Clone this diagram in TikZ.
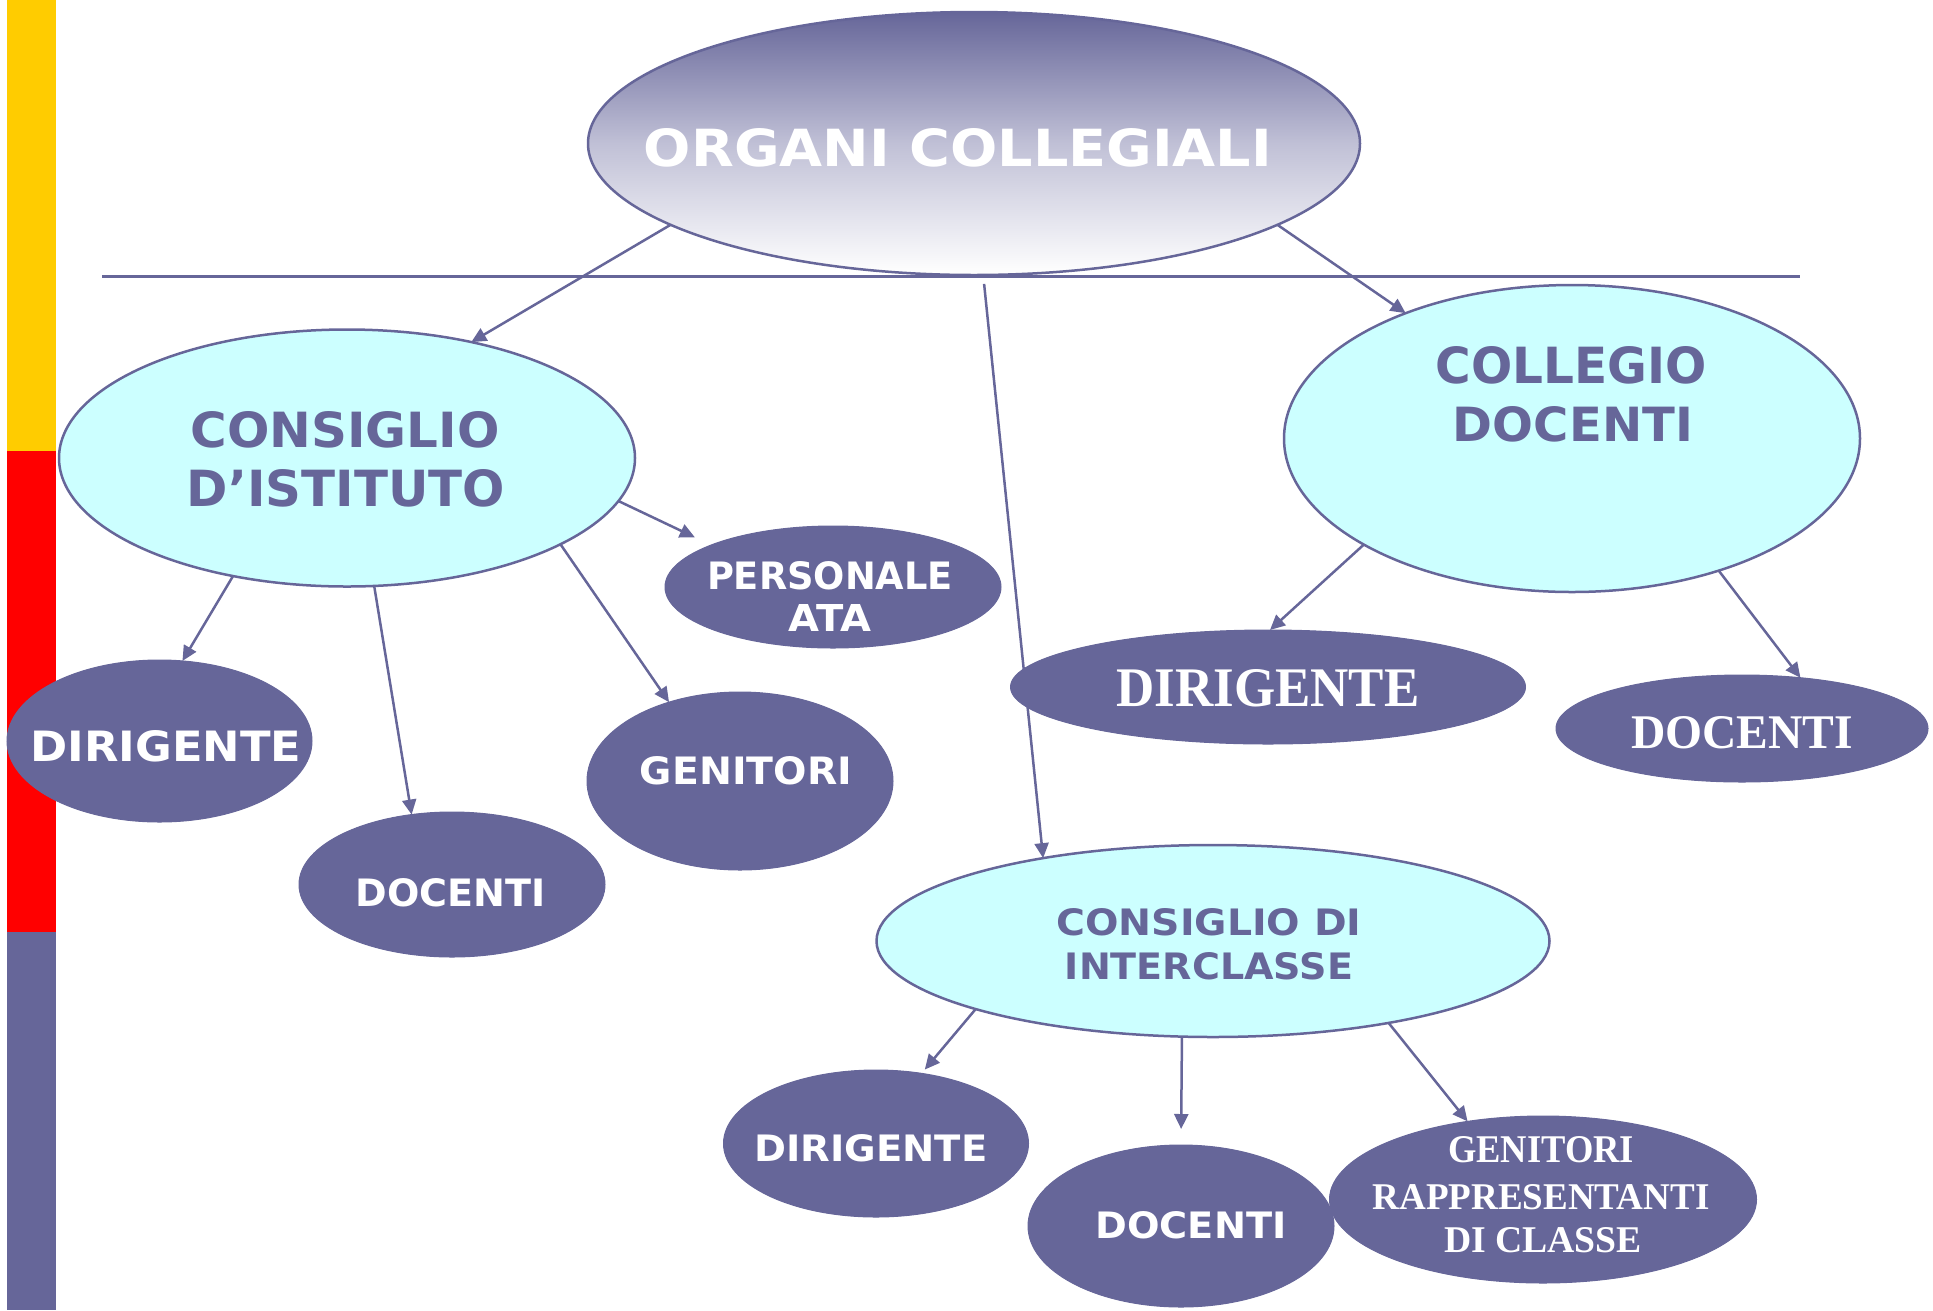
\documentclass[tikz,border=0pt]{standalone}
\usepackage{fontspec}
\setmainfont{DejaVu Sans}
\newfontfamily\tnr{Liberation Serif}
\usetikzlibrary{shapes.geometric,arrows.meta}
\definecolor{pur}{HTML}{666699}
\definecolor{lcyan}{HTML}{CCFFFF}
\definecolor{barY}{HTML}{FFCC00}
\definecolor{barR}{HTML}{FF0000}
\definecolor{midg}{RGB}{192,192,214}
\newcommand{\fitbox}[3]{\resizebox{#1pt}{#2pt}{#3}}
\tikzset{
 ell/.style={ellipse, inner sep=0pt, outer sep=0pt},
 darkell/.style={ell, fill=pur, draw=pur, line width=1pt},
 lightell/.style={ell, fill=lcyan, draw=pur, line width=2.5pt},
 wtxt/.style={inner sep=0pt, outer sep=0pt, text=white, font=\bfseries},
 ptxt/.style={inner sep=0pt, outer sep=0pt, text=pur, font=\bfseries},
 stxt/.style={inner sep=0pt, outer sep=0pt, text=white, font=\tnr\bfseries},
 conn/.style={draw=pur, line width=2.5pt, -{Triangle[length=15pt,width=14pt]}},
}
\begin{document}
\begin{tikzpicture}[x=1pt,y=-1pt]
\useasboundingbox (0,0) rectangle (1933,1310);
% left bar
\fill[barY] (7,0) rectangle (56,451);
\fill[barR] (7,451) rectangle (56,932);
\fill[pur] (7,932) rectangle (56,1310);
% horizontal rule
\coordinate (hl) at (102,276);
\coordinate (hr) at (1800,276);
\draw[pur, line width=3pt] (hl) -- (hr);
% ellipses
\node[ell, draw=pur, line width=2.5pt, top color=pur, bottom color=white, middle color=midg,
      minimum width=772pt, minimum height=263pt] (top) at (974,143.5) {};
\node[lightell, minimum width=576pt, minimum height=257pt] (cdi) at (347,458) {};
\node[lightell, minimum width=576pt, minimum height=307pt] (cd) at (1572,438.5) {};
\node[lightell, minimum width=673pt, minimum height=192pt] (ci) at (1213,941) {};
\node[darkell, minimum width=336pt, minimum height=122pt] (pa) at (833,587) {};
\node[darkell, minimum width=305pt, minimum height=162pt] (dl) at (159.5,741) {};
\node[darkell, minimum width=306pt, minimum height=145pt] (docl) at (452,884.5) {};
\node[darkell, minimum width=306pt, minimum height=178pt] (gen) at (740,781) {};
\node[darkell, minimum width=515pt, minimum height=114pt] (dr) at (1268,687) {};
\node[darkell, minimum width=372pt, minimum height=107pt] (docr) at (1742,728.5) {};
\node[darkell, minimum width=305pt, minimum height=147pt] (db) at (876,1143.5) {};
\node[darkell, minimum width=306pt, minimum height=162pt] (dob) at (1181,1226) {};
\node[darkell, minimum width=427pt, minimum height=167pt] (gr) at (1543,1199.5) {};
% texts
\node[wtxt] (t-top) at (958,147.5) {\fitbox{628}{38}{ORGANI COLLEGIALI}};
\node[ptxt] (t-cdi1) at (345,430) {\fitbox{309}{36}{CONSIGLIO}};
\node[ptxt] (t-cdi2) at (346,488.5) {\fitbox{318}{37}{D’ISTITUTO}};
\node[ptxt] (t-cd1) at (1571,365.5) {\fitbox{271}{37}{COLLEGIO}};
\node[ptxt] (t-cd2) at (1573,424) {\fitbox{240}{35}{DOCENTI}};
\node[ptxt] (t-ci1) at (1209,922) {\fitbox{305}{27}{CONSIGLIO DI}};
\node[ptxt] (t-ci2) at (1209,966) {\fitbox{288}{27}{INTERCLASSE}};
\node[wtxt] (t-pa1) at (830,576) {\fitbox{246}{28}{PERSONALE}};
\node[wtxt] (t-pa2) at (830,617.5) {\fitbox{83}{27}{ATA}};
\node[wtxt] (t-dl) at (166,746.5) {\fitbox{271}{31}{DIRIGENTE}};
\node[wtxt] (t-docl) at (451,892.5) {\fitbox{190}{28}{DOCENTI}};
\node[wtxt] (t-gen) at (746,770.5) {\fitbox{212}{28}{GENITORI}};
\node[stxt] (t-dr) at (1268,688.5) {\fitbox{303}{37}{DIRIGENTE}};
\node[stxt] (t-docr) at (1742,733) {\fitbox{222}{32}{DOCENTI}};
\node[wtxt] (t-db) at (871,1148.5) {\fitbox{233}{27}{DIRIGENTE}};
\node[wtxt] (t-dob) at (1191,1225.5) {\fitbox{191}{27}{DOCENTI}};
\node[stxt] (t-gr1) at (1541,1150) {\fitbox{186}{26}{GENITORI}};
\node[stxt] (t-gr2) at (1541,1197) {\fitbox{337}{25}{RAPPRESENTANTI}};
\node[stxt] (t-gr3) at (1543,1240.5) {\fitbox{198}{25}{DI CLASSE}};
% connectors
\draw[conn] (top.195) -- (cdi.43);
\draw[conn] (top.-15) -- (cd.143);
\draw[conn, shorten <=9pt] (top.-86) -- (ci.154);
\draw[conn, shorten >=18pt] (cdi.-9) -- (pa.161);
\draw[conn] (cdi.-134) -- (dl.74);
\draw[conn] (cdi.-78) -- (docl.120);
\draw[conn] (cdi.-22) -- (gen.132);
\draw[conn] (cd.-153) -- (dr.88);
\draw[conn] (cd.-42) -- (docr.41);
\draw[conn, shorten >=5pt] (ci.-164) -- (db.57);
\draw[conn, shorten >=16pt] (ci.-108) -- (dob.90);
\draw[conn] (ci.-25) -- (gr.134);
\end{tikzpicture}
\end{document}
